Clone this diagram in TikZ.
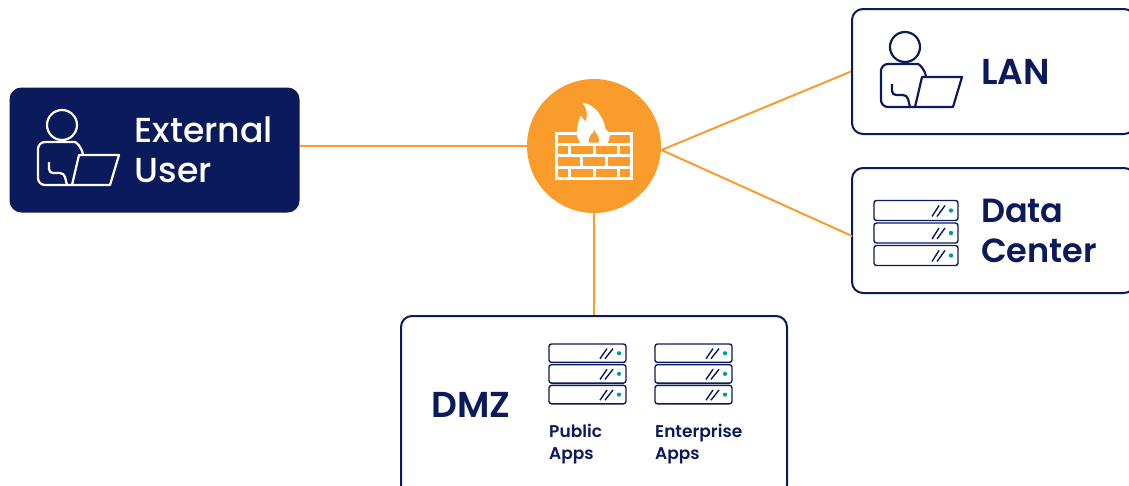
\documentclass[tikz,border=0pt]{standalone}
\usepackage{fontspec}
\setmainfont{Poppins Medium}
\newfontfamily\strongfont{Poppins SemiBold}
\usetikzlibrary{calc}
\definecolor{navy}{HTML}{0A1A5B}
\definecolor{flameorange}{HTML}{F99C2B}
\definecolor{ledteal}{HTML}{009C9A}

\begin{document}
\begin{tikzpicture}[
    x = 1pt,
    y = -1pt,
    wire/.style = {draw = flameorange, line width = 2pt},
    panel/.style = {draw = navy, line width = 2pt, fill = white,
      rounded corners = 11pt, minimum width = 283pt, minimum height = 125pt,
      inner sep = 0pt},
    biglabel/.style = {anchor = base west, inner sep = 0pt, font = \strongfont\fontsize{33.5}{40}\selectfont,
      text = navy, align = left},
    shortlabel/.style = {biglabel, font = \strongfont\fontsize{36}{40}\selectfont},
    smalllabel/.style = {anchor = base west, inner sep = 0pt, font = \strongfont\fontsize{17}{22}\selectfont,
      text = navy, align = left},
    usericon/.pic = {
      % head is the origin
      \draw (0, 0) circle (15);
      \draw[rounded corners = 7pt] (21, 30) .. controls (20, 22) and (14, 17) .. (6, 17)
        -- (-24, 17) -- (-24, 60) -- (10, 60);
      \draw[line join = round] (17, 30) -- (57, 30) -- (48, 60) -- (10, 60) -- cycle;
      \draw[rounded corners = 4pt] (-13, 37) -- (-13, 48) -- (2, 48) -- (5, 60);
    },
    serverrack/.pic = {
      \foreach \ya in {0, 22.5, 45}{
        \draw[rounded corners = 2.5pt] (0, \ya) rectangle (\rackwidth, \ya + 20);
        \draw (\rackwidth - 26, \ya + 16) -- (\rackwidth - 19, \ya + 5);
        \draw (\rackwidth - 21, \ya + 16) -- (\rackwidth - 13, \ya + 5);
        \fill[ledteal] (\rackwidth - 7, \ya + 10) circle (2.2);
      }
    },
    ]

    \def\rackwidth{84}

    \useasboundingbox (0, 0) rectangle (1129, 485);
    \clip (0, 0) rectangle (1129, 485);

    % boxes
    \node[panel, fill = navy, minimum width = 288pt, minimum height = 123pt] (ext) at (154.5, 150) {};
    \node[panel] (lan) at (993.5, 71.5) {};
    \node[panel] (dc) at (993.5, 230.5) {};
    \node[panel, minimum width = 386pt, minimum height = 180pt] (dmz) at (594, 406) {};
    \node[circle, fill = flameorange, minimum size = 134pt, inner sep = 0pt] (firewall) at (594, 146) {};

    % ports that are not on an anchor
    \coordinate (fork) at (661.5, 150);
    \coordinate (dcport) at (852, 236);

    % connectors
    \draw[wire] (ext.east |- firewall.west) -- (firewall.west);
    \draw[wire] (fork) -- (lan.west);
    \draw[wire] (fork) -- (dcport);
    \draw[wire] (firewall.south) -- (firewall.south |- dmz.north);

    % brick wall
    \begin{scope}[shift = {(515, 70)}, x = 0.3333pt, y = -0.3333pt, white, line width = 3pt]
        \draw (124, 190) rectangle (350, 325);
        \draw (124, 225) -- (350, 225);
        \draw (124, 258) -- (350, 258);
        \draw (124, 292) -- (350, 292);
        \foreach \xa in {163, 238, 312}{
            \draw (\xa, 225) -- (\xa, 258);
            \draw (\xa, 292) -- (\xa, 325);
        }
        \foreach \xa in {200, 275}{
            \draw (\xa, 258) -- (\xa, 292);
        }
        % flame
        \fill (203, 99) .. controls (225, 98) and (262, 125) .. (272, 178)
          .. controls (285, 185) and (292, 205) .. (272, 224) -- (203, 224)
          .. controls (182, 210) and (180, 180) .. (197, 137)
          .. controls (204, 145) and (208, 150) .. (212, 155)
          .. controls (219, 135) and (216, 115) .. (203, 99) -- cycle;
        \fill[flameorange] (237, 179) .. controls (242, 190) and (256, 205) .. (251, 218)
          -- (222, 218) .. controls (219, 208) and (226, 198) .. (229, 192)
          .. controls (232, 195) and (236, 188) .. (237, 179) -- cycle;
    \end{scope}

    % icons
    \pic[white, line width = 2.2pt] at (62, 125) {usericon};
    \pic[navy, line width = 2.2pt] at (905, 47) {usericon};
    \pic[navy, line width = 1.4pt] at (874, 200.5) {serverrack};
    \def\rackwidth{77}
    \pic[navy, line width = 1.4pt, yscale = 0.92] at (549, 344) {serverrack};
    \pic[navy, line width = 1.4pt, yscale = 0.92] at (655, 344) {serverrack};

    % labels, the anchor is on the base of the last line
    \node[biglabel, text = white, font = \fontsize{34.7}{40}\selectfont] (extlabel) at (134.5, 182) {External\\User};
    \node[shortlabel] (lanlabel) at (981, 84) {LAN};
    \node[biglabel] (dclabel) at (981, 262) {Data\\Center};
    \node[shortlabel] (dmzlabel) at (431, 417) {DMZ};
    \node[smalllabel] (publabel) at (549, 459) {Public\\Apps};
    \node[smalllabel] (entlabel) at (655, 459) {Enterprise\\Apps};

\end{tikzpicture}
\end{document}
